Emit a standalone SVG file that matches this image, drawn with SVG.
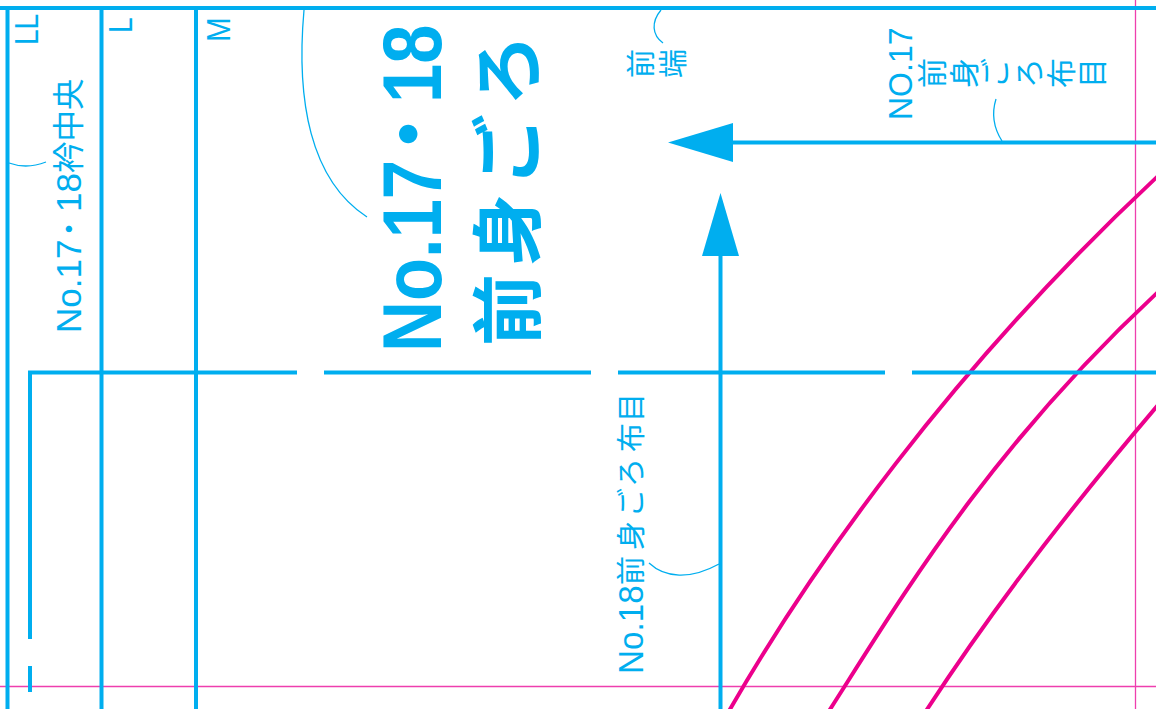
<svg xmlns="http://www.w3.org/2000/svg" width="1156" height="709" viewBox="0 0 1156 709">
<style>
.b{fill:none;stroke:#00aeef;stroke-width:4}
.t{fill:none;stroke:#00aeef;stroke-width:1.300}
.m{fill:none;stroke:#ec008c;stroke-width:4}
.p{fill:none;stroke:#ee3fae;stroke-width:1.300}
.f{fill:#00aeef}
text{fill:#00aeef;font-family:"Liberation Sans","Noto Sans CJK JP",sans-serif}
.j{font-family:"Noto Sans CJK JP",sans-serif}
</style>
<rect width="1156" height="709" fill="#fff"/>
<g id="guides"><path class="p" d="M0 686.500H1156M1135.500 0V709"/></g>
<g id="curves"><path class="m" d="M729 711C810 570 950 370 1158 176"/><path class="m" d="M829 711C900 600 988 450 1158 292"/><path class="m" d="M926 711C985 620 1060 520 1158 405"/></g>
<g id="connectors">
<path class="b" d="M0 8H1156M7.500 8V709M101.500 8V709M196 8V709"/>
<path class="b" d="M28 372.500H297M324 372.500H591M618 372.500H885M912 372.500H1156M30 372V639M30 666V692"/>
<path class="b" d="M720.500 250V709M730 142.500H1156"/>
<path class="f" d="M668 142.500L733 123V162Z"/>
<path class="f" d="M720.500 193L739 256H702Z"/>
<path class="t" d="M9 163C20 167 33 167 46 162"/>
<path class="t" d="M304 10C296 100 310 180 367 217"/>
<path class="t" d="M661 10C651 22 652 35 663 43"/>
<path class="t" d="M996 99C991 115 995 130 1002 141"/>
<path class="t" d="M649 563C665 578 690 580 719 564"/>
</g>
<g id="size-labels">
<text transform="translate(38,45) rotate(-90) scale(.85,1)" font-size="33">LL</text>
<text transform="translate(131.500,33) rotate(-90) scale(.85,1)" font-size="33">L</text>
<text transform="translate(230,42) rotate(-90) scale(.9,1)" font-size="33">M</text>
</g>
<g id="collar-label">
<text transform="translate(81,333) rotate(-90)" font-size="35">No.17</text>
<text class="j" transform="translate(80,244) rotate(-90)" font-size="30">・</text>
<text transform="translate(81,212) rotate(-90)" font-size="35">18</text>
<text class="j" transform="translate(79.500,173) rotate(-90)" font-size="31.500">衿中央</text>
</g>
<g id="main-label">
<text transform="translate(441,352) rotate(-90) scale(.85,1)" font-size="83" font-weight="700">No.17</text>
<text class="j" transform="translate(435,170) rotate(-90)" font-size="72" font-weight="700">・</text>
<text transform="translate(441,103) rotate(-90) scale(.85,1)" font-size="83" font-weight="700">18</text>
<text class="j" transform="translate(534,346) rotate(-90)" font-size="72" font-weight="700" x="0 80 160 240" y="0">前身ごろ</text>
</g>
<g id="front-end-label">
<text class="j" font-size="29" x="652 684" y="78" rotate="-90">前端</text>
</g>
<g id="no17-label">
<text transform="translate(912,120) rotate(-90) scale(.97,1)" font-size="33">NO.17</text>
<text class="j" font-size="30" x="943 975 1006 1040 1072 1103" y="88" rotate="-90">前身ごろ布目</text>
</g>
<g id="no18-label">
<text transform="translate(643,674) rotate(-90) scale(.95,1)" font-size="35">No.18</text>
<text class="j" transform="translate(641.500,585) rotate(-90)" font-size="29" x="0 35 68 98 133 163" y="0">前身ごろ布目</text>
</g>
</svg>
